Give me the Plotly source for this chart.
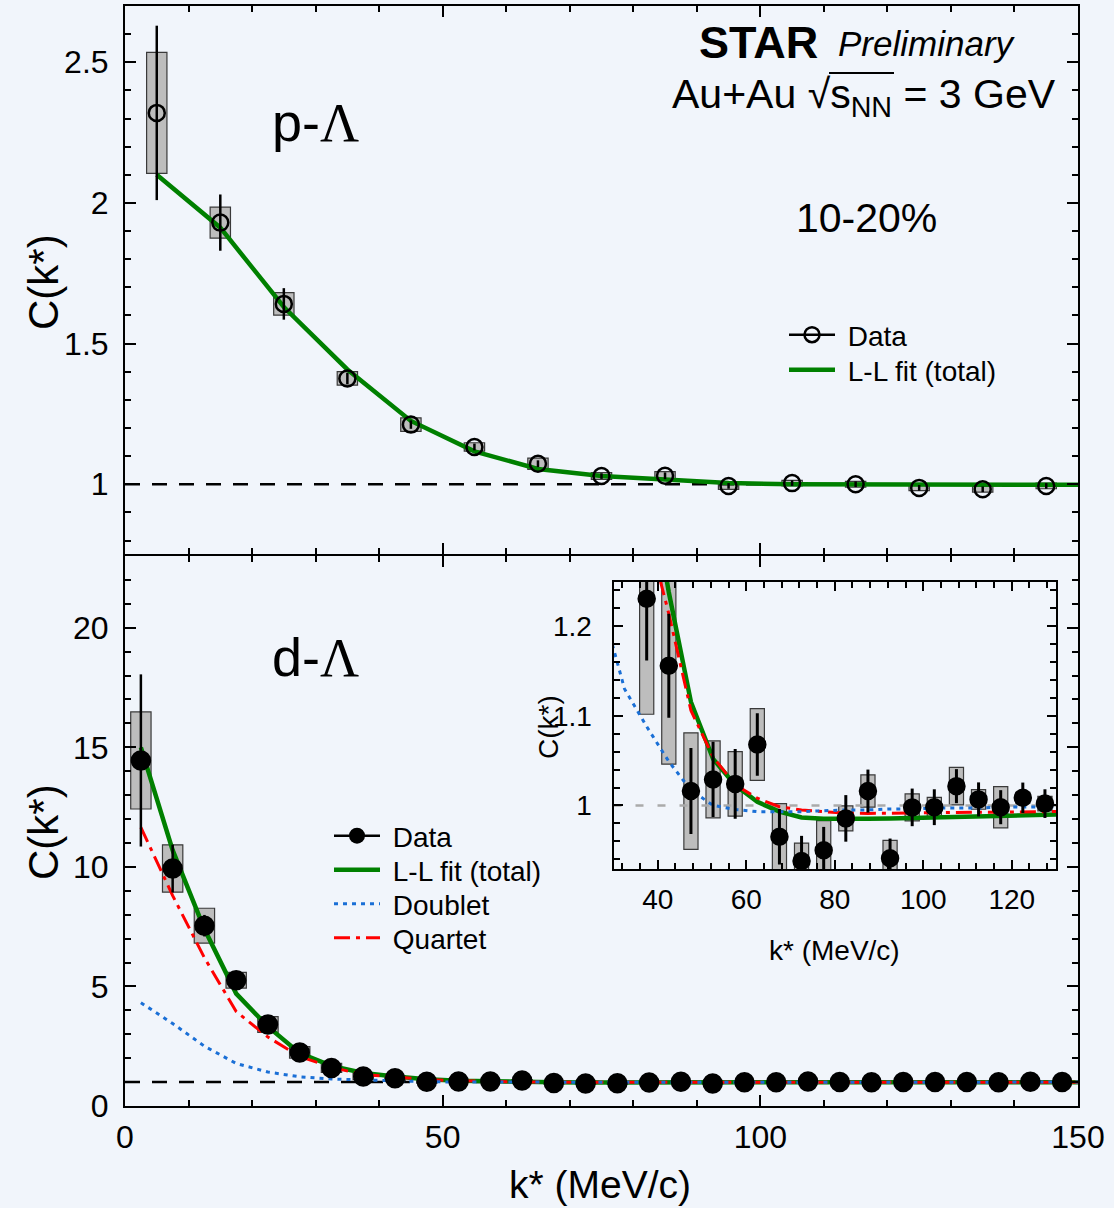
import plotly.graph_objects as go

W, H = 1114, 1208
BG = "#f1f5fb"
FONT = "Liberation Sans, Arial, Helvetica, sans-serif"

# ---------------- p-Lambda (top panel) ----------------
k_pl = [5, 15, 25, 35, 45, 55, 65, 75, 85, 95, 105, 115, 125, 135, 145]
C_pl = [2.32, 1.93, 1.641, 1.376, 1.212, 1.1325, 1.073, 1.029, 1.03, 0.994,
        1.004, 1.0, 0.987, 0.982, 0.994]
stat_pl = [0.31, 0.10, 0.056, 0.02, 0.015, 0.012, 0.012, 0.01, 0.012, 0.01,
           0.01, 0.01, 0.01, 0.01, 0.01]
sys_pl = [0.215, 0.055, 0.04, 0.024, 0.024, 0.015, 0.02, 0.012, 0.015, 0.012,
          0.01, 0.01, 0.01, 0.01, 0.01]
k_pl_fit = [5, 15, 25, 35, 45, 55, 65, 75, 85, 95, 105, 115, 125, 135, 145, 150]
C_pl_fit = [2.10, 1.912, 1.63, 1.408, 1.225, 1.117, 1.054, 1.029, 1.017, 1.004,
            1.0, 0.999, 0.998, 0.998, 0.998, 0.998]

# ---------------- d-Lambda (bottom panel + inset) ----------------
k_dl = [2.5, 7.5, 12.5, 17.5, 22.5, 27.5, 32.5, 37.5, 42.5, 47.5,
        52.5, 57.5, 62.5, 67.5, 72.5, 77.5, 82.5, 87.5, 92.5, 97.5,
        102.5, 107.5, 112.5, 117.5, 122.5, 127.5, 132.5, 137.5, 142.5, 147.5]
C_dl = [14.45, 9.93, 7.54, 5.26, 3.41, 2.24, 1.59, 1.2308, 1.156, 1.016,
        1.029, 1.024, 1.068, 0.965, 0.938, 0.950, 0.9855, 1.016, 0.941, 0.9978,
        0.998, 1.0215, 1.0067, 0.998, 1.0085, 1.002, 1.0, 0.99, 1.01, 1.0]
stat_dl = [3.6, 1.0, 0.45, 0.2, 0.15, 0.1, 0.08, 0.069, 0.058, 0.048,
           0.042, 0.039, 0.035, 0.031, 0.028, 0.026, 0.026, 0.024, 0.022, 0.021,
           0.02, 0.019, 0.019, 0.019, 0.017, 0.016, 0.016, 0.015, 0.015, 0.015]
sys_dl = [2.03, 0.99, 0.73, 0.33, 0.33, 0.24, 0.19, 0.129, 0.11, 0.065,
          0.043, 0.036, 0.040, 0.037, 0.02, 0.033, 0.014, 0.018, 0.02, 0.015,
          0.011, 0.021, 0.011, 0.023, 0.006, 0.008, 0.01, 0.01, 0.01, 0.01]

k_dl_fit = [2.5, 7.5, 12.5, 17.5, 22.5, 27.5, 32.5, 37.5, 42.5, 47.5,
            52.5, 57.5, 62.5, 67.5, 72.5, 77.5, 82.5, 87.5, 92.5, 97.5,
            102.5, 107.5, 112.5, 117.5, 122.5, 127.5, 132.5, 137.5, 142.5, 147.5, 150]
C_total = [15.0, 10.7, 7.4, 4.7, 3.32, 2.21, 1.68, 1.38, 1.238, 1.1155,
           1.052, 1.0226, 1.004, 0.993, 0.9866, 0.985, 0.9847, 0.985, 0.9855, 0.9862,
           0.9866, 0.9873, 0.9881, 0.9888, 0.9896, 0.990, 0.9905, 0.991, 0.9915, 0.992, 0.992]
C_doublet = [4.32, 3.45, 2.5, 1.78, 1.42, 1.22, 1.13, 1.088, 1.049, 1.017,
             1.0, 0.9955, 0.993, 0.993, 0.993, 0.994, 0.995, 0.995, 0.996, 0.996,
             0.997, 0.997, 0.997, 0.998, 0.998, 0.998, 0.998, 0.999, 0.999, 0.999, 0.999]
C_quartet = [11.65, 8.8, 6.2, 3.95, 2.88, 2.07, 1.62, 1.31, 1.214, 1.106,
             1.054, 1.023, 1.008, 0.9985, 0.9948, 0.993, 0.9915, 0.9911, 0.9911, 0.9918,
             0.9918, 0.9921, 0.9925, 0.9929, 0.9933, 0.9937, 0.994, 0.994, 0.994, 0.994, 0.994]

baseline_x = [0, 150]
inset_base_x = [30, 130]

# ---------------- style ----------------
GREEN = "#008000"
RED = "#ff0000"
BLUE = "#1a6fd6"
BOX_FILL = "#bdbdbd"
BOX_LINE = "#3a3a3a"
BOX_W = 3.2
DASH_RED = "16px,6px,4px,6px"
DASH_BLUE = "4px,5px"


def px(x):
    return x / W


def py(y):
    return 1 - y / H


fig = go.Figure()


def add_base_and_boxes(xa, ya, k, C, sys, base_x, base_color, base_dash):
    fig.add_trace(go.Scatter(x=base_x, y=[1] * len(base_x), mode="lines",
                             line=dict(color=base_color, width=2.5, dash=base_dash),
                             xaxis=xa, yaxis=ya, showlegend=False, hoverinfo="skip"))
    fig.add_trace(go.Bar(x=k, y=[2 * s for s in sys],
                         base=[c - s for c, s in zip(C, sys)], width=BOX_W,
                         marker=dict(color=BOX_FILL, line=dict(color=BOX_LINE, width=1.2)),
                         xaxis=xa, yaxis=ya, showlegend=False, hoverinfo="skip"))


def add_points(xa, ya, k, C, stat, symbol, msize, thick):
    fig.add_trace(go.Scatter(x=k, y=C, mode="markers",
                             marker=dict(symbol=symbol, size=msize, color="black",
                                         line=dict(color="black", width=2.5)),
                             error_y=dict(type="data", array=stat, visible=True,
                                          thickness=thick, width=0, color="black"),
                             xaxis=xa, yaxis=ya, showlegend=False))


def add_line(xa, ya, x, y, color, width, dash="solid"):
    fig.add_trace(go.Scatter(x=x, y=y, mode="lines",
                             line=dict(color=color, width=width, dash=dash),
                             xaxis=xa, yaxis=ya, showlegend=False))


# top panel
add_base_and_boxes("x", "y", k_pl, C_pl, sys_pl, baseline_x, "black", "15px,12px")
add_line("x", "y", k_pl_fit, C_pl_fit, GREEN, 4.5)
add_points("x", "y", k_pl, C_pl, stat_pl, "circle-open", 16, 2.5)

# bottom panel
add_base_and_boxes("x2", "y2", k_dl, C_dl, sys_dl, baseline_x, "black", "15px,12px")
add_line("x2", "y2", k_dl_fit, C_total, GREEN, 4.5)
add_line("x2", "y2", k_dl_fit, C_quartet, RED, 3, DASH_RED)
add_line("x2", "y2", k_dl_fit, C_doublet, BLUE, 3, DASH_BLUE)
add_points("x2", "y2", k_dl, C_dl, stat_dl, "circle", 18, 2.5)

# inset
add_base_and_boxes("x3", "y3", k_dl, C_dl, sys_dl, inset_base_x, "#aaaaaa", "8px,14px")
add_line("x3", "y3", k_dl_fit, C_total, GREEN, 4.5)
add_line("x3", "y3", k_dl_fit, C_quartet, RED, 3, DASH_RED)
add_line("x3", "y3", k_dl_fit, C_doublet, BLUE, 3, DASH_BLUE)
add_points("x3", "y3", k_dl, C_dl, stat_dl, "circle", 16, 3)

# legend entries: one legend per row so rows sit exactly where the reference has them
LEG_FONT = 28
GAP = "\u00a0"
legend_rows = [
    ("legend", "Data", "lines+markers", dict(color="black", width=2.5),
     dict(symbol="circle-open", size=15, color="black", line=dict(width=2.5)), 784, 335),
    ("legend2", "L-L fit (total)", "lines", dict(color=GREEN, width=4.5), None, 784, 370),
    ("legend3", "Data", "lines+markers", dict(color="black", width=2.5),
     dict(symbol="circle", size=16, color="black"), 329, 836),
    ("legend4", "L-L fit (total)", "lines", dict(color=GREEN, width=4.5), None, 329, 870),
    ("legend5", "Doublet", "lines", dict(color=BLUE, width=3, dash=DASH_BLUE), None, 329, 904),
    ("legend6", "Quartet", "lines", dict(color=RED, width=3, dash=DASH_RED), None, 329, 938),
]
legend_layout = {}
for lid, name, mode, line, marker, lx, ly in legend_rows:
    kw = dict(x=[None], y=[None], mode=mode, name=GAP + name, line=line,
              xaxis="x2", yaxis="y2", legend=lid, showlegend=True)
    if marker is not None:
        kw["marker"] = marker
    fig.add_trace(go.Scatter(**kw))
    legend_layout[lid] = dict(x=px(lx), y=py(ly), xanchor="left", yanchor="middle",
                              bgcolor="rgba(0,0,0,0)",
                              font=dict(size=LEG_FONT, family=FONT, color="black"),
                              itemwidth=46)


def axis(**kw):
    d = dict(showline=True, linecolor="black", linewidth=2, mirror="allticks",
             ticks="inside", ticklen=11, tickwidth=2, tickcolor="black",
             showgrid=False, zeroline=False, ticklabelstandoff=8, automargin=False,
             tickfont=dict(size=32, color="black", family=FONT))
    d.update(kw)
    return d


def minor(dt, tick0=0):
    return dict(ticks="inside", ticklen=6, tickwidth=1.5, tickcolor="black",
                dtick=dt, tick0=tick0, showgrid=False)


X0, X1 = px(125), px(1078)
INSET_FONT = dict(size=28, color="black", family=FONT)
fig.update_layout(
    width=W, height=H, autosize=False,
    margin=dict(l=0, r=0, t=0, b=0, pad=0, autoexpand=False),
    paper_bgcolor=BG, plot_bgcolor=BG,
    barmode="overlay",
    font=dict(family=FONT, color="black"),
    xaxis=axis(domain=[X0, X1], anchor="y", range=[0, 150], dtick=50, tick0=0,
               minor=minor(10), showticklabels=False),
    yaxis=axis(domain=[py(554), py(6)], anchor="x", range=[0.752, 2.70], dtick=0.5,
               tick0=0, minor=minor(0.1)),
    xaxis2=axis(domain=[X0, X1], anchor="y2", range=[0, 150], dtick=50, tick0=0,
                minor=minor(10), ticklabelstandoff=2),
    yaxis2=axis(domain=[py(1106), py(556)], anchor="x2", range=[0, 23], dtick=5,
                tick0=0, minor=minor(1)),
    xaxis3=axis(domain=[px(613.5), px(1056)], anchor="y3", range=[30, 130], dtick=20,
                tick0=0, minor=minor(4), ticklen=9, tickfont=INSET_FONT,
                ticklabelstandoff=4),
    yaxis3=axis(domain=[py(869), py(581.5)], anchor="x3", range=[0.929, 1.25],
                dtick=0.1, tick0=0, minor=minor(0.02), ticklen=9, tickfont=INSET_FONT,
                ticklabelstandoff=14),
    showlegend=True,
    **legend_layout,
)

ann = []


def text(x, y, s, size, xanchor="center", yanchor="middle", angle=0):
    ann.append(dict(x=px(x), y=py(y), xref="paper", yref="paper", text=s,
                    showarrow=False, xanchor=xanchor, yanchor=yanchor,
                    textangle=angle, font=dict(size=size, color="black", family=FONT)))


text(43, 282, "C(k*)", 42, angle=-90)
text(43, 832, "C(k*)", 42, angle=-90)
text(600, 1184, "k* (MeV/c)", 39)
text(548, 727, "C(k*)", 28, angle=-90)
text(835, 950, "k* (MeV/c)", 28)
text(697, 42, "<b>STAR</b>", 45, xanchor="left")
text(836, 44, "<i>Preliminary</i>", 35, xanchor="left")
text(1058, 97, "Au+Au √s<sub>NN</sub> = 3 GeV", 41, xanchor="right")
text(866, 218, "10-20%", 41)
text(270, 122, "p-<span style='font-family:Liberation Serif'>Λ</span>", 54, xanchor="left")
text(270, 658, "d-<span style='font-family:Liberation Serif'>Λ</span>", 54, xanchor="left")
fig.update_layout(annotations=ann)

# overline of the square root sign
fig.add_shape(type="line", xref="paper", yref="paper",
              x0=px(829), x1=px(894), y0=py(73), y1=py(73),
              line=dict(color="black", width=2))

fig.write_html("out.html", config={"displayModeBar": False},
               post_script="document.body.style.margin='0';"
                           "document.body.style.padding='0';"
                           "document.body.style.background='" + BG + "';"
                           "document.documentElement.style.overflow='hidden';")
